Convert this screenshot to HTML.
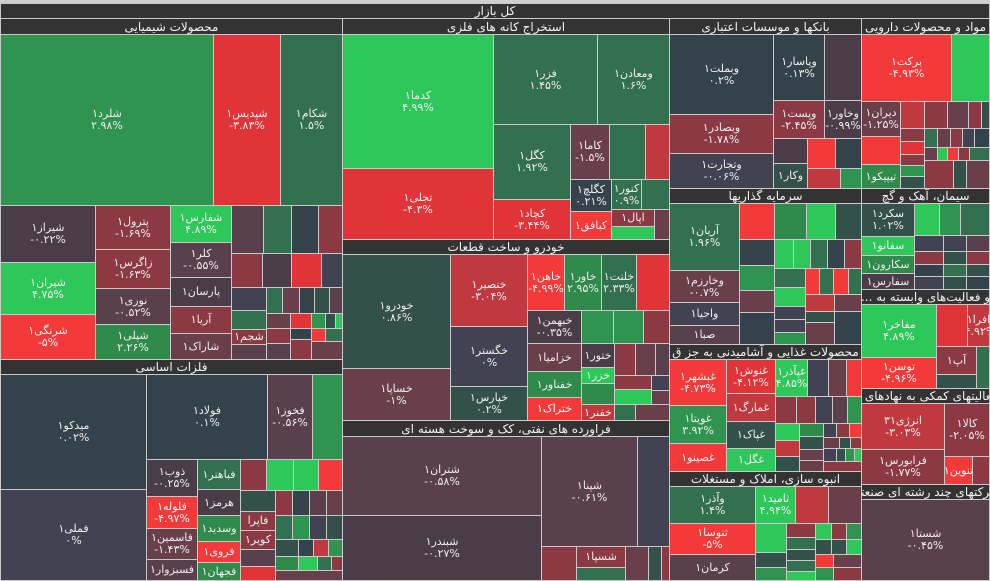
<!DOCTYPE html>
<html><head><meta charset="utf-8"><style>
body{margin:0;width:990px;height:581px;overflow:hidden;background:#cfcfcf;position:relative;font-family:"DejaVu Sans","Liberation Sans",sans-serif;}
div{position:absolute;box-sizing:border-box;border:1px solid #c9c9c9;color:#eee;font-size:11px;text-align:center;display:flex;align-items:center;justify-content:center;line-height:12px;overflow:hidden;white-space:nowrap}
.h{background:#333;color:#f2f2f2;font-size:12px;border:1px solid #c9c9c9}
.a{background:#2ec85a}.b{background:#2f9450}.c{background:#33704f}.d{background:#33504a}.e{background:#34434b}.f{background:#424252}.g{background:#4a3c48}.i{background:#5a3f4c}.j{background:#6a3f4c}.k{background:#8b3a44}.l{background:#c0393f}.m{background:#e03438}.n{background:#f23a3a}.o{background:#2f8a4c}
</style></head><body>
<div class="h" style="left:0;top:3px;width:990px;height:16px">کل بازار</div>
<!-- chemicals -->
<div class="h" style="left:0;top:18px;width:343px;height:17px">محصولات شیمیایی</div>
<div class="b" style="left:0;top:34px;width:214px;height:172px">شلرد۱<br>۲.۹۸%</div>
<div class="m" style="left:213px;top:34px;width:68px;height:172px">شپدیس۱<br>-۳.۸۳%</div>
<div class="c" style="left:280px;top:34px;width:63px;height:172px">شکام۱<br>۱.۵%</div>
<div class="g" style="left:0;top:205px;width:96px;height:58px">شیراز۱<br>-۰.۲۲%</div>
<div class="a" style="left:0;top:262px;width:96px;height:53px">شیران۱<br>۴.۷۵%</div>
<div class="n" style="left:0;top:314px;width:96px;height:46px">شرنگی۱<br>-۵%</div>
<div class="k" style="left:95px;top:205px;width:76px;height:45px">پترول۱<br>-۱.۶۹%</div>
<div class="k" style="left:95px;top:249px;width:76px;height:40px">زاگرس۱<br>-۱.۶۳%</div>
<div class="i" style="left:95px;top:288px;width:76px;height:37px">نوری۱<br>-۰.۵۲%</div>
<div class="o" style="left:95px;top:324px;width:76px;height:36px">شپلی۱<br>۲.۲۶%</div>
<div class="a" style="left:170px;top:205px;width:62px;height:38px">شفارس۱<br>۴.۸۹%</div>
<div class="i" style="left:170px;top:242px;width:62px;height:36px">کلر۱<br>-۰.۵۵%</div>
<div class="g" style="left:170px;top:277px;width:62px;height:30px">پارسان۱</div>
<div class="k" style="left:170px;top:306px;width:62px;height:28px">آریا۱</div>
<div class="j" style="left:170px;top:333px;width:62px;height:27px">شاراک۱</div>
<div class="i" style="left:231px;top:205px;width:33px;height:49px"></div>
<div class="c" style="left:263px;top:205px;width:29px;height:49px"></div>
<div class="e" style="left:291px;top:205px;width:28px;height:49px"></div>
<div class="k" style="left:318px;top:205px;width:25px;height:49px"></div>
<div class="k" style="left:231px;top:253px;width:32px;height:35px"></div>
<div class="g" style="left:262px;top:253px;width:30px;height:35px"></div>
<div class="m" style="left:291px;top:253px;width:31px;height:35px"></div>
<div class="f" style="left:321px;top:253px;width:22px;height:35px"></div>
<div class="f" style="left:231px;top:287px;width:36px;height:24px"></div>
<div class="c" style="left:266px;top:287px;width:17px;height:27px"></div>
<div class="j" style="left:282px;top:287px;width:18px;height:27px"></div>
<div class="e" style="left:299px;top:287px;width:16px;height:27px"></div>
<div class="d" style="left:314px;top:287px;width:16px;height:27px"></div>
<div class="i" style="left:329px;top:287px;width:14px;height:27px"></div>
<div class="c" style="left:231px;top:310px;width:36px;height:20px"></div>
<div class="k" style="left:231px;top:329px;width:36px;height:16px">شجم۱</div>
<div class="i" style="left:231px;top:344px;width:36px;height:16px"></div>
<div class="j" style="left:266px;top:313px;width:25px;height:16px"></div>
<div class="m" style="left:290px;top:313px;width:22px;height:16px"></div>
<div class="b" style="left:311px;top:313px;width:15px;height:16px"></div>
<div class="d" style="left:325px;top:313px;width:11px;height:16px"></div>
<div class="a" style="left:335px;top:313px;width:8px;height:16px"></div>
<div class="k" style="left:266px;top:328px;width:25px;height:16px"></div>
<div class="e" style="left:290px;top:328px;width:22px;height:12px"></div>
<div class="n" style="left:311px;top:328px;width:15px;height:14px"></div>
<div class="c" style="left:325px;top:328px;width:18px;height:14px"></div>
<div class="i" style="left:266px;top:343px;width:25px;height:17px"></div>
<div class="k" style="left:290px;top:339px;width:22px;height:21px"></div>
<div class="j" style="left:311px;top:341px;width:32px;height:19px"></div>
<!-- basic metals -->
<div class="h" style="left:0;top:359px;width:343px;height:16px">فلزات اساسی</div>
<div class="e" style="left:0;top:374px;width:147px;height:116px">میدکو۱<br>۰.۰۲%</div>
<div class="f" style="left:0;top:489px;width:147px;height:92px">فملی۱<br>۰%</div>
<div class="e" style="left:146px;top:374px;width:122px;height:86px">فولاد۱<br>۰.۱%</div>
<div class="i" style="left:267px;top:374px;width:46px;height:86px">فخوز۱<br>-۰.۵۶%</div>
<div class="b" style="left:312px;top:374px;width:31px;height:86px"></div>
<div class="g" style="left:146px;top:459px;width:52px;height:38px">ذوب۱<br>-۰.۲۵%</div>
<div class="n" style="left:146px;top:496px;width:52px;height:33px">فلوله۱<br>-۴.۹۷%</div>
<div class="j" style="left:146px;top:528px;width:52px;height:32px">فاسمین۱<br>-۱.۴۳%</div>
<div class="i" style="left:146px;top:559px;width:52px;height:22px">فسبزوار۱</div>
<div class="c" style="left:197px;top:459px;width:44px;height:31px">فباهنر۱</div>
<div class="g" style="left:197px;top:489px;width:44px;height:27px">هرمز۱</div>
<div class="o" style="left:197px;top:515px;width:44px;height:27px">وسدید۱</div>
<div class="n" style="left:197px;top:541px;width:44px;height:22px">فروی۱</div>
<div class="o" style="left:197px;top:562px;width:44px;height:19px">فجهان۱</div>
<div class="k" style="left:240px;top:459px;width:27px;height:32px"></div>
<div class="a" style="left:266px;top:459px;width:28px;height:32px"></div>
<div class="a" style="left:293px;top:459px;width:26px;height:32px"></div>
<div class="n" style="left:318px;top:459px;width:25px;height:32px"></div>
<div class="d" style="left:240px;top:490px;width:36px;height:22px"></div>
<div class="k" style="left:275px;top:490px;width:18px;height:26px"></div>
<div class="e" style="left:292px;top:490px;width:18px;height:26px"></div>
<div class="i" style="left:309px;top:490px;width:18px;height:26px"></div>
<div class="j" style="left:326px;top:490px;width:17px;height:26px"></div>
<div class="k" style="left:240px;top:511px;width:36px;height:20px">فاپرا</div>
<div class="k" style="left:240px;top:530px;width:36px;height:20px">کویر۱</div>
<div class="i" style="left:240px;top:549px;width:36px;height:18px"></div>
<div class="m" style="left:240px;top:566px;width:36px;height:15px"></div>
<div class="c" style="left:275px;top:515px;width:18px;height:25px"></div>
<div class="b" style="left:292px;top:515px;width:18px;height:25px"></div>
<div class="f" style="left:309px;top:515px;width:18px;height:25px"></div>
<div class="d" style="left:326px;top:515px;width:17px;height:25px"></div>
<div class="d" style="left:275px;top:539px;width:24px;height:18px"></div>
<div class="e" style="left:298px;top:539px;width:16px;height:18px"></div>
<div class="l" style="left:313px;top:539px;width:16px;height:18px"></div>
<div class="b" style="left:328px;top:539px;width:15px;height:18px"></div>
<div class="o" style="left:275px;top:556px;width:24px;height:15px"></div>
<div class="a" style="left:298px;top:556px;width:20px;height:15px"></div>
<div class="c" style="left:317px;top:556px;width:15px;height:15px"></div>
<div class="k" style="left:331px;top:556px;width:12px;height:15px"></div>
<div class="j" style="left:275px;top:570px;width:68px;height:11px"></div>
<!-- mining -->
<div class="h" style="left:342px;top:18px;width:328px;height:17px">استخراج کانه های فلزی</div>
<div class="a" style="left:342px;top:34px;width:152px;height:135px">کدما۱<br>۴.۹۹%</div>
<div class="m" style="left:342px;top:168px;width:152px;height:72px">تجلی۱<br>-۴.۳%</div>
<div class="c" style="left:493px;top:34px;width:105px;height:91px">فزر۱<br>۱.۴۵%</div>
<div class="c" style="left:597px;top:34px;width:73px;height:91px">ومعادن۱<br>۱.۶%</div>
<div class="c" style="left:493px;top:124px;width:78px;height:76px">کگل۱<br>۱.۹۲%</div>
<div class="j" style="left:570px;top:124px;width:40px;height:56px">کاما۱<br>-۱.۵%</div>
<div class="c" style="left:609px;top:124px;width:37px;height:56px"></div>
<div class="l" style="left:645px;top:124px;width:25px;height:56px"></div>
<div class="m" style="left:493px;top:199px;width:78px;height:41px">کچاد۱<br>-۳.۴۴%</div>
<div class="e" style="left:570px;top:179px;width:42px;height:33px">کگلچ۱<br>۰.۲۱%</div>
<div class="c" style="left:611px;top:179px;width:31px;height:31px">کنور۱<br>۰.۹%</div>
<div class="c" style="left:641px;top:179px;width:29px;height:31px"></div>
<div class="n" style="left:570px;top:211px;width:42px;height:29px">کبافق۱</div>
<div class="k" style="left:611px;top:209px;width:44px;height:18px">اپال۱</div>
<div class="a" style="left:611px;top:226px;width:44px;height:14px"></div>
<div class="j" style="left:654px;top:209px;width:16px;height:31px"></div>
<!-- auto -->
<div class="h" style="left:342px;top:239px;width:328px;height:16px">خودرو و ساخت قطعات</div>
<div class="d" style="left:342px;top:254px;width:109px;height:115px">خودرو۱<br>۰.۸۶%</div>
<div class="j" style="left:342px;top:368px;width:109px;height:53px">خساپا۱<br>-۱%</div>
<div class="l" style="left:450px;top:254px;width:78px;height:73px">خنصیر۱<br>-۳.۰۴%</div>
<div class="f" style="left:450px;top:326px;width:78px;height:61px">خگستر۱<br>۰%</div>
<div class="d" style="left:450px;top:386px;width:78px;height:35px">خپارس۱<br>۰.۲%</div>
<div class="n" style="left:527px;top:254px;width:38px;height:57px">خاهن۱<br>-۴.۹۹%</div>
<div class="o" style="left:564px;top:254px;width:38px;height:57px">خاور۱<br>۲.۹۵%</div>
<div class="c" style="left:601px;top:254px;width:36px;height:57px">خلنت۱<br>۲.۳۳%</div>
<div class="m" style="left:636px;top:254px;width:34px;height:57px"></div>
<div class="g" style="left:527px;top:310px;width:55px;height:34px">خبهمن۱<br>-۰.۳۵%</div>
<div class="b" style="left:581px;top:310px;width:33px;height:34px"></div>
<div class="b" style="left:613px;top:310px;width:31px;height:34px"></div>
<div class="k" style="left:643px;top:310px;width:27px;height:34px"></div>
<div class="j" style="left:527px;top:343px;width:55px;height:29px">خزامیا۱</div>
<div class="o" style="left:527px;top:371px;width:55px;height:27px">خفناور۱</div>
<div class="n" style="left:527px;top:397px;width:55px;height:24px">ختراک۱</div>
<div class="g" style="left:581px;top:343px;width:34px;height:25px">ختور۱</div>
<div class="a" style="left:581px;top:367px;width:34px;height:17px">خزر۱</div>
<div class="o" style="left:581px;top:383px;width:34px;height:22px"></div>
<div class="l" style="left:581px;top:404px;width:34px;height:17px">خفنر۱</div>
<div class="k" style="left:614px;top:343px;width:22px;height:33px"></div>
<div class="j" style="left:635px;top:343px;width:21px;height:33px"></div>
<div class="i" style="left:655px;top:343px;width:15px;height:33px"></div>
<div class="k" style="left:614px;top:375px;width:38px;height:15px"></div>
<div class="f" style="left:651px;top:375px;width:19px;height:16px"></div>
<div class="a" style="left:614px;top:389px;width:38px;height:16px"></div>
<div class="j" style="left:651px;top:390px;width:19px;height:15px"></div>
<div class="c" style="left:614px;top:404px;width:22px;height:17px"></div>
<div class="j" style="left:635px;top:404px;width:35px;height:17px"></div>
<!-- refinery -->
<div class="h" style="left:342px;top:420px;width:328px;height:17px">فراورده های نفتی، کک و سوخت هسته ای</div>
<div class="i" style="left:342px;top:436px;width:200px;height:80px">شتران۱<br>-۰.۵۸%</div>
<div class="g" style="left:342px;top:515px;width:200px;height:66px">شبندر۱<br>-۰.۲۷%</div>
<div class="i" style="left:541px;top:436px;width:97px;height:111px">شپنا۱<br>-۰.۶۱%</div>
<div class="f" style="left:637px;top:436px;width:33px;height:111px"></div>
<div class="k" style="left:541px;top:546px;width:36px;height:35px"></div>
<div class="k" style="left:576px;top:546px;width:50px;height:22px">شسپا۱</div>
<div class="c" style="left:576px;top:567px;width:50px;height:14px"></div>
<div class="j" style="left:625px;top:546px;width:24px;height:35px"></div>
<div class="d" style="left:648px;top:546px;width:14px;height:35px"></div>
<div class="k" style="left:661px;top:546px;width:9px;height:35px"></div>
<!-- banks -->
<div class="h" style="left:669px;top:18px;width:193px;height:17px">بانکها و موسسات اعتباری</div>
<div class="e" style="left:669px;top:34px;width:105px;height:81px">وبملت۱<br>۰.۲%</div>
<div class="k" style="left:669px;top:114px;width:105px;height:40px">وبصادر۱<br>-۱.۷۸%</div>
<div class="f" style="left:669px;top:153px;width:105px;height:36px">وتجارت۱<br>-۰.۰۶%</div>
<div class="e" style="left:773px;top:34px;width:52px;height:67px">وپاسار۱<br>۰.۱۳%</div>
<div class="g" style="left:824px;top:34px;width:38px;height:67px"></div>
<div class="k" style="left:773px;top:100px;width:52px;height:39px">وپست۱<br>-۲.۴۵%</div>
<div class="g" style="left:824px;top:100px;width:38px;height:39px">وخاور۱<br>-۰.۹۹%</div>
<div class="g" style="left:773px;top:138px;width:35px;height:26px"></div>
<div class="n" style="left:807px;top:138px;width:29px;height:31px"></div>
<div class="e" style="left:835px;top:138px;width:27px;height:31px"></div>
<div class="d" style="left:773px;top:163px;width:35px;height:26px">وکار۱</div>
<div class="l" style="left:807px;top:168px;width:34px;height:21px"></div>
<div class="b" style="left:840px;top:168px;width:22px;height:21px"></div>
<!-- investment -->
<div class="h" style="left:669px;top:188px;width:193px;height:16px">سرمایه گذاریها</div>
<div class="c" style="left:669px;top:203px;width:71px;height:68px">آریان۱<br>۱.۹۶%</div>
<div class="j" style="left:669px;top:270px;width:71px;height:33px">وخارزم۱<br>-۰.۷%</div>
<div class="f" style="left:669px;top:302px;width:71px;height:24px">واحیا۱</div>
<div class="i" style="left:669px;top:325px;width:71px;height:20px">صبا۱</div>
<div class="n" style="left:739px;top:203px;width:36px;height:37px"></div>
<div class="o" style="left:774px;top:203px;width:33px;height:37px"></div>
<div class="a" style="left:806px;top:203px;width:30px;height:37px"></div>
<div class="d" style="left:835px;top:203px;width:27px;height:37px"></div>
<div class="e" style="left:739px;top:239px;width:36px;height:27px"></div>
<div class="a" style="left:774px;top:239px;width:20px;height:30px"></div>
<div class="a" style="left:793px;top:239px;width:18px;height:30px"></div>
<div class="c" style="left:810px;top:239px;width:18px;height:30px"></div>
<div class="e" style="left:827px;top:239px;width:18px;height:30px"></div>
<div class="k" style="left:844px;top:239px;width:18px;height:30px"></div>
<div class="b" style="left:739px;top:265px;width:36px;height:26px"></div>
<div class="j" style="left:739px;top:290px;width:36px;height:23px"></div>
<div class="e" style="left:739px;top:312px;width:36px;height:33px"></div>
<div class="c" style="left:774px;top:268px;width:32px;height:20px"></div>
<div class="a" style="left:774px;top:287px;width:32px;height:20px"></div>
<div class="f" style="left:774px;top:306px;width:32px;height:14px"></div>
<div class="f" style="left:774px;top:319px;width:32px;height:14px"></div>
<div class="b" style="left:774px;top:332px;width:32px;height:13px"></div>
<div class="n" style="left:805px;top:268px;width:15px;height:27px"></div>
<div class="c" style="left:819px;top:268px;width:15px;height:27px"></div>
<div class="n" style="left:833px;top:268px;width:16px;height:27px"></div>
<div class="c" style="left:848px;top:268px;width:14px;height:27px"></div>
<div class="l" style="left:805px;top:294px;width:30px;height:18px"></div>
<div class="d" style="left:805px;top:311px;width:30px;height:12px"></div>
<div class="j" style="left:805px;top:322px;width:30px;height:23px"></div>
<div class="j" style="left:834px;top:294px;width:28px;height:18px"></div>
<div class="e" style="left:834px;top:311px;width:28px;height:34px"></div>
<!-- food -->
<div class="h" style="left:669px;top:344px;width:193px;height:16px">محصولات غذایی و آشامیدنی به جز ق</div>
<div class="n" style="left:669px;top:359px;width:58px;height:47px">غبشهر۱<br>-۴.۷۳%</div>
<div class="b" style="left:669px;top:405px;width:58px;height:39px">غویتا۱<br>۳.۹۲%</div>
<div class="n" style="left:669px;top:443px;width:58px;height:29px">غصینو۱</div>
<div class="m" style="left:726px;top:359px;width:50px;height:35px">غنوش۱<br>-۴.۱۲%</div>
<div class="l" style="left:726px;top:393px;width:50px;height:29px">غمارگ۱</div>
<div class="d" style="left:726px;top:421px;width:50px;height:28px">غپاک۱</div>
<div class="a" style="left:726px;top:448px;width:50px;height:24px">غگل۱</div>
<div class="a" style="left:775px;top:359px;width:33px;height:38px">غپآذر۱<br>۴.۸۵%</div>
<div class="f" style="left:807px;top:359px;width:22px;height:38px"></div>
<div class="j" style="left:828px;top:359px;width:19px;height:38px"></div>
<div class="n" style="left:846px;top:359px;width:16px;height:38px"></div>
<div class="k" style="left:775px;top:396px;width:22px;height:28px"></div>
<div class="k" style="left:796px;top:396px;width:20px;height:28px"></div>
<div class="f" style="left:815px;top:396px;width:18px;height:28px"></div>
<div class="i" style="left:832px;top:396px;width:16px;height:28px"></div>
<div class="b" style="left:847px;top:396px;width:15px;height:28px"></div>
<div class="a" style="left:775px;top:423px;width:25px;height:18px"></div>
<div class="l" style="left:775px;top:440px;width:25px;height:17px"></div>
<div class="d" style="left:775px;top:456px;width:25px;height:16px"></div>
<div class="o" style="left:799px;top:423px;width:25px;height:14px"></div>
<div class="d" style="left:799px;top:436px;width:25px;height:14px"></div>
<div class="j" style="left:799px;top:449px;width:25px;height:12px"></div>
<div class="j" style="left:799px;top:460px;width:25px;height:12px"></div>
<div class="f" style="left:823px;top:423px;width:14px;height:15px"></div>
<div class="k" style="left:836px;top:423px;width:14px;height:15px"></div>
<div class="n" style="left:849px;top:423px;width:13px;height:15px"></div>
<div class="j" style="left:823px;top:437px;width:17px;height:12px"></div>
<div class="d" style="left:839px;top:437px;width:12px;height:12px"></div>
<div class="k" style="left:850px;top:437px;width:12px;height:12px"></div>
<div class="f" style="left:823px;top:448px;width:14px;height:14px"></div>
<div class="d" style="left:836px;top:448px;width:10px;height:14px"></div>
<div class="b" style="left:845px;top:448px;width:10px;height:14px"></div>
<div class="a" style="left:854px;top:448px;width:8px;height:14px"></div>
<div class="k" style="left:823px;top:461px;width:39px;height:11px"></div>
<!-- construction -->
<div class="h" style="left:669px;top:471px;width:193px;height:16px">انبوه سازی، املاک و مستغلات</div>
<div class="c" style="left:669px;top:486px;width:87px;height:38px">وآذر۱<br>۱.۴%</div>
<div class="n" style="left:669px;top:523px;width:87px;height:32px">ثنوسا۱<br>-۵%</div>
<div class="i" style="left:669px;top:554px;width:87px;height:27px">کرمان۱</div>
<div class="a" style="left:755px;top:486px;width:41px;height:38px">ثامید۱<br>۴.۹۴%</div>
<div class="l" style="left:795px;top:486px;width:34px;height:38px"></div>
<div class="j" style="left:828px;top:486px;width:34px;height:38px"></div>
<div class="a" style="left:755px;top:523px;width:32px;height:30px"></div>
<div class="d" style="left:755px;top:552px;width:32px;height:16px"></div>
<div class="b" style="left:755px;top:567px;width:32px;height:14px"></div>
<div class="k" style="left:786px;top:523px;width:30px;height:15px"></div>
<div class="c" style="left:786px;top:537px;width:30px;height:13px"></div>
<div class="d" style="left:786px;top:549px;width:30px;height:12px"></div>
<div class="c" style="left:786px;top:560px;width:30px;height:12px"></div>
<div class="a" style="left:786px;top:571px;width:30px;height:10px"></div>
<div class="a" style="left:815px;top:523px;width:17px;height:17px"></div>
<div class="k" style="left:831px;top:523px;width:16px;height:17px"></div>
<div class="b" style="left:846px;top:523px;width:16px;height:17px"></div>
<div class="d" style="left:815px;top:539px;width:17px;height:16px"></div>
<div class="d" style="left:831px;top:539px;width:16px;height:16px"></div>
<div class="a" style="left:846px;top:539px;width:16px;height:16px"></div>
<div class="n" style="left:815px;top:554px;width:19px;height:14px"></div>
<div class="j" style="left:833px;top:554px;width:29px;height:14px"></div>
<div class="b" style="left:815px;top:567px;width:19px;height:14px"></div>
<div class="k" style="left:833px;top:567px;width:29px;height:14px"></div>
<!-- pharma -->
<div class="h" style="left:861px;top:18px;width:129px;height:17px">مواد و محصولات دارویی</div>
<div class="n" style="left:861px;top:34px;width:91px;height:68px">برکت۱<br>-۴.۹۳%</div>
<div class="a" style="left:951px;top:34px;width:39px;height:68px"></div>
<div class="j" style="left:861px;top:101px;width:40px;height:36px">دیران۱<br>-۱.۲۵%</div>
<div class="n" style="left:861px;top:136px;width:40px;height:29px"></div>
<div class="o" style="left:861px;top:164px;width:40px;height:25px">تیپیکو۱</div>
<div class="l" style="left:900px;top:101px;width:25px;height:28px"></div>
<div class="k" style="left:924px;top:101px;width:24px;height:28px"></div>
<div class="j" style="left:947px;top:101px;width:22px;height:28px"></div>
<div class="k" style="left:968px;top:101px;width:14px;height:28px"></div>
<div class="d" style="left:981px;top:101px;width:9px;height:28px"></div>
<div class="k" style="left:900px;top:128px;width:25px;height:14px"></div>
<div class="m" style="left:900px;top:141px;width:25px;height:14px"></div>
<div class="k" style="left:900px;top:154px;width:25px;height:12px"></div>
<div class="b" style="left:900px;top:165px;width:25px;height:12px"></div>
<div class="d" style="left:900px;top:176px;width:25px;height:13px"></div>
<div class="c" style="left:924px;top:128px;width:14px;height:20px"></div>
<div class="j" style="left:937px;top:128px;width:14px;height:20px"></div>
<div class="k" style="left:950px;top:128px;width:13px;height:20px"></div>
<div class="f" style="left:962px;top:128px;width:13px;height:20px"></div>
<div class="e" style="left:974px;top:128px;width:16px;height:20px"></div>
<div class="j" style="left:924px;top:147px;width:14px;height:14px"></div>
<div class="a" style="left:937px;top:147px;width:11px;height:14px"></div>
<div class="n" style="left:947px;top:147px;width:12px;height:14px"></div>
<div class="k" style="left:958px;top:147px;width:12px;height:14px"></div>
<div class="c" style="left:969px;top:147px;width:21px;height:14px"></div>
<div class="k" style="left:924px;top:160px;width:30px;height:29px"></div>
<div class="d" style="left:953px;top:160px;width:14px;height:29px"></div>
<div class="j" style="left:966px;top:160px;width:24px;height:29px"></div>
<!-- cement -->
<div class="h" style="left:861px;top:188px;width:129px;height:16px">سیمان، آهک و گچ</div>
<div class="d" style="left:861px;top:203px;width:54px;height:34px">سکرد۱<br>۱.۰۲%</div>
<div class="a" style="left:861px;top:236px;width:54px;height:20px">سفانو۱</div>
<div class="o" style="left:861px;top:255px;width:54px;height:19px">سکارون۱</div>
<div class="g" style="left:861px;top:273px;width:54px;height:17px">سفارس۱</div>
<div class="a" style="left:914px;top:203px;width:26px;height:33px"></div>
<div class="b" style="left:939px;top:203px;width:22px;height:33px"></div>
<div class="c" style="left:960px;top:203px;width:30px;height:33px"></div>
<div class="f" style="left:914px;top:235px;width:30px;height:17px"></div>
<div class="f" style="left:943px;top:235px;width:24px;height:17px"></div>
<div class="i" style="left:966px;top:235px;width:24px;height:17px"></div>
<div class="k" style="left:914px;top:251px;width:30px;height:14px"></div>
<div class="e" style="left:914px;top:264px;width:30px;height:13px"></div>
<div class="f" style="left:914px;top:276px;width:30px;height:14px"></div>
<div class="d" style="left:943px;top:251px;width:24px;height:14px"></div>
<div class="c" style="left:943px;top:264px;width:24px;height:13px"></div>
<div class="d" style="left:943px;top:276px;width:24px;height:14px"></div>
<div class="k" style="left:966px;top:251px;width:24px;height:14px"></div>
<div class="d" style="left:966px;top:264px;width:24px;height:13px"></div>
<div class="e" style="left:966px;top:276px;width:24px;height:14px"></div>
<!-- related -->
<div class="h" style="left:861px;top:289px;width:129px;height:16px">... و فعالیت‌های وابسته به</div>
<div class="a" style="left:861px;top:304px;width:76px;height:54px">مفاخر۱<br>۴.۸۹%</div>
<div class="m" style="left:936px;top:304px;width:32px;height:43px"></div>
<div class="l" style="left:967px;top:304px;width:23px;height:43px">افرا۱<br>-۴.۹۲%</div>
<div class="n" style="left:861px;top:357px;width:76px;height:32px">توسن۱<br>-۴.۹۶%</div>
<div class="k" style="left:936px;top:346px;width:41px;height:29px">آپ۱</div>
<div class="d" style="left:936px;top:374px;width:41px;height:15px"></div>
<div class="c" style="left:976px;top:346px;width:14px;height:43px"></div>
<!-- support -->
<div class="h" style="left:861px;top:388px;width:129px;height:16px">فعالیتهای کمکی به نهادهای م</div>
<div class="l" style="left:861px;top:403px;width:84px;height:47px">انرژی۳۱<br>-۳.۰۳%</div>
<div class="k" style="left:944px;top:403px;width:46px;height:54px">کالا۱<br>-۲.۰۵%</div>
<div class="k" style="left:861px;top:449px;width:84px;height:36px">فرابورس۱<br>-۱.۷۷%</div>
<div class="n" style="left:944px;top:456px;width:29px;height:29px">تنوین۱</div>
<div class="k" style="left:972px;top:456px;width:18px;height:29px"></div>
<!-- multi -->
<div class="h" style="left:861px;top:484px;width:129px;height:16px">شرکتهای چند رشته ای صنعتی</div>
<div class="i" style="left:861px;top:499px;width:129px;height:82px">شستا۱<br>-۰.۴۵%</div>
</body></html>
